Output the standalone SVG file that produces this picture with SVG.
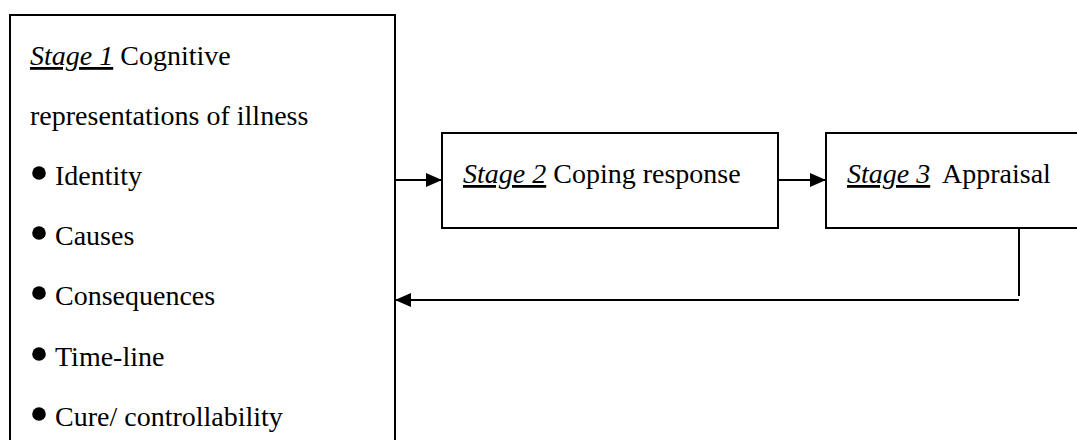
<svg xmlns="http://www.w3.org/2000/svg" width="1077" height="440" viewBox="0 0 1077 440">
<style>
.box{fill:#fff;stroke:#000;stroke-width:2}
.t{font-family:"Liberation Serif","Times New Roman",serif;font-size:28px;fill:#000}
.st{font-style:italic;text-decoration:underline}
.ln{stroke:#000;stroke-width:2;fill:none}
.dot{fill:#000}
</style>
<defs>
<marker id="ah" markerWidth="16" markerHeight="14" refX="16" refY="7" orient="auto" markerUnits="userSpaceOnUse">
<path d="M0,0 L16,7 L0,14 Z" fill="#000"/>
</marker>
</defs>
<rect width="1077" height="440" fill="#fff"/>
<g id="stage1">
<rect class="box" x="10" y="15" width="385" height="440"/>
<text class="t" x="30" y="65"><tspan class="st">Stage 1</tspan> Cognitive</text>
<text class="t" x="30" y="125">representations of illness</text>
<circle class="dot" cx="39" cy="173" r="6.8"/>
<text class="t" x="55" y="185">Identity</text>
<circle class="dot" cx="39" cy="233" r="6.8"/>
<text class="t" x="55" y="245">Causes</text>
<circle class="dot" cx="39" cy="293" r="6.8"/>
<text class="t" x="55" y="305">Consequences</text>
<circle class="dot" cx="39" cy="354" r="6.8"/>
<text class="t" x="55" y="366">Time-line</text>
<circle class="dot" cx="39" cy="414" r="6.8"/>
<text class="t" x="55" y="426">Cure/ controllability</text>
</g>
<g id="stage2">
<rect class="box" x="442" y="133" width="336" height="95"/>
<text class="t" x="463" y="183"><tspan class="st">Stage 2</tspan> Coping response</text>
</g>
<g id="stage3">
<rect class="box" x="826" y="133" width="260" height="95"/>
<text class="t" x="847" y="183"><tspan class="st">Stage 3</tspan><tspan x="942">Appraisal</tspan></text>
</g>
<g id="connectors">
<line class="ln" x1="395" y1="180" x2="442" y2="180" marker-end="url(#ah)"/>
<line class="ln" x1="778" y1="180" x2="826" y2="180" marker-end="url(#ah)"/>
<polyline class="ln" points="1019,228 1019,296"/>
<line class="ln" x1="1019" y1="300" x2="395" y2="300" marker-end="url(#ah)"/>
</g>
</svg>
